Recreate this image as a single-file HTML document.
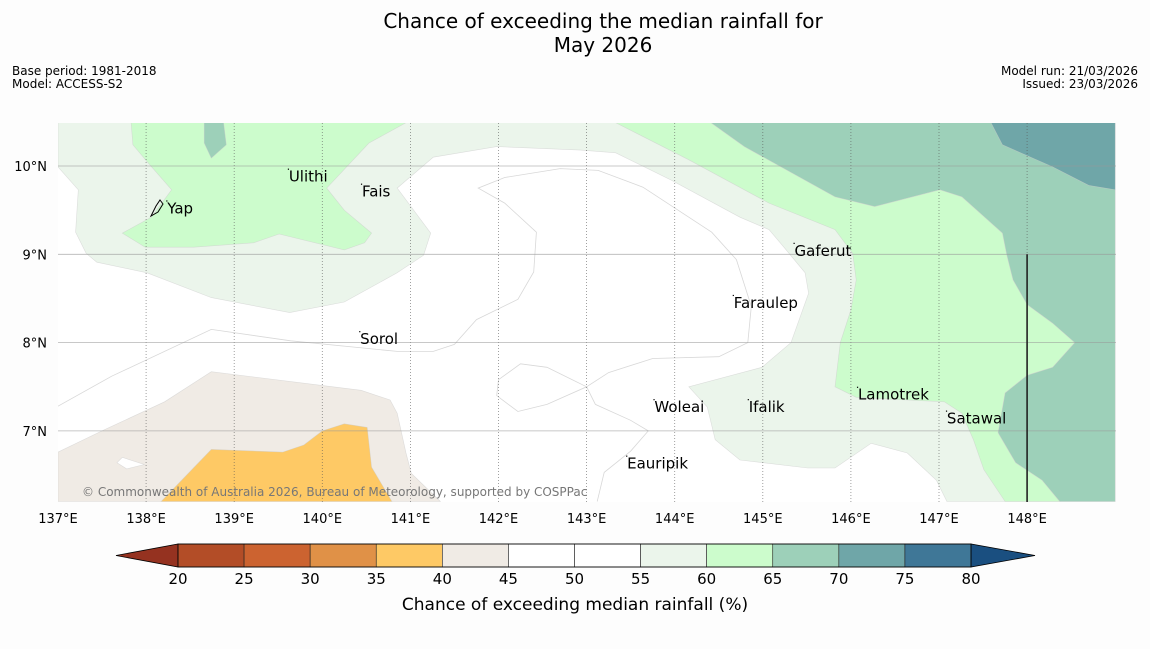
<!DOCTYPE html>
<html><head><meta charset="utf-8"><style>
body{margin:0;background:#fdfdfd;font-family:"Liberation Sans","DejaVu Sans",sans-serif;}
svg text{font-family:"DejaVu Sans","Liberation Sans",sans-serif;}
</style></head><body>
<svg id="chart" width="1150" height="644" viewBox="0 0 1150 644" xmlns="http://www.w3.org/2000/svg">
<rect width="1150" height="644" fill="#fdfdfd"/>
<text x="603" y="28" text-anchor="middle" font-size="20" fill="#000">Chance of exceeding the median rainfall for</text>
<text x="603" y="52" text-anchor="middle" font-size="20" fill="#000">May 2026</text>
<text x="12" y="75" font-size="12">Base period: 1981-2018</text>
<text x="12" y="88" font-size="12">Model: ACCESS-S2</text>
<text x="1138" y="75" font-size="12" text-anchor="end">Model run: 21/03/2026</text>
<text x="1138" y="88" font-size="12" text-anchor="end">Issued: 23/03/2026</text>
<g id="map"></g>
<g id="cbar"></g>
<text x="575" y="610" text-anchor="middle" font-size="17">Chance of exceeding median rainfall (%)</text>
</svg>
<script>
// Map extent (degrees)
const lonMin = 137, lonMax = 149.0, latMin = 6.2, latMax = 10.49;
const lonTicks = [137,138,139,140,141,142,143,144,145,146,147,148];
const latTicks = [7,8,9,10];
// Contour fill polygons, [lon, lat] pairs
const paleGreenZone = [[137,10.49],[149,10.49],[149,6.2],[147.09,6.2],[146.97,6.44],[146.64,6.75],[146.23,6.86],[145.82,6.58],[145.51,6.58],[144.74,6.67],[144.46,6.9],[144.37,7.27],[144.16,7.5],[144.99,7.72],[145.32,8],[145.52,8.56],[145.48,8.79],[145.24,9.08],[145.07,9.28],[144.74,9.42],[143.96,9.84],[143.33,10.15],[142.93,10.18],[141.98,10.22],[141.26,10.1],[140.85,9.75],[141.23,9.24],[141.15,8.99],[140.85,8.79],[140.25,8.46],[139.63,8.34],[138.74,8.51],[138.01,8.79],[137.44,8.91],[137.32,9.01],[137.2,9.25],[137.23,9.73],[137,9.99]];
const greenWestZone = [[137.83,10.49],[140.95,10.49],[140.53,10.26],[140.05,9.75],[140.25,9.5],[140.56,9.24],[140.48,9.13],[140.25,9.05],[139.51,9.23],[139.22,9.13],[138.54,9.08],[137.99,9.08],[137.73,9.24],[138.06,9.42],[138.29,9.73],[138.01,10.05],[137.85,10.24]];
const tealSliverZone = [[138.66,10.49],[138.88,10.49],[138.91,10.24],[138.74,10.09],[138.66,10.26]];
const tealEastZone = [[144.41,10.49],[149,10.49],[149,6.2],[148.37,6.2],[148.17,6.44],[147.87,6.64],[147.67,6.98],[147.75,7.43],[148.0,7.63],[148.29,7.72],[148.54,8.0],[148.29,8.22],[148.0,8.43],[147.84,8.71],[147.77,8.99],[147.72,9.24],[147.26,9.65],[147.01,9.73],[146.27,9.54],[145.82,9.65],[144.79,10.22]];
const greenEastZone = [[143.33,10.49],[144.41,10.49],[144.79,10.22],[145.82,9.65],[146.27,9.54],[147.01,9.73],[147.26,9.65],[147.72,9.24],[147.77,8.99],[147.84,8.71],[148.0,8.43],[148.29,8.22],[148.54,8.0],[148.29,7.72],[148.0,7.63],[147.75,7.43],[147.67,6.98],[147.87,6.64],[148.17,6.44],[148.37,6.2],[147.75,6.2],[147.51,6.56],[147.39,6.9],[147.26,7.2],[147.06,7.33],[146.64,7.35],[146.06,7.38],[145.82,7.5],[145.88,8.0],[146.0,8.37],[146.06,8.71],[146.02,9.01],[145.82,9.28],[145.07,9.58],[144.16,10.07]];
const darkTealZone = [[147.59,10.49],[149,10.49],[149,9.73],[148.7,9.78],[148.29,9.99],[147.72,10.24]];
const beigeZone = [[137,6.76],[137.52,7.01],[138.21,7.33],[138.74,7.67],[140.44,7.46],[140.77,7.35],[140.85,7.2],[140.95,6.75],[141.01,6.52],[141.34,6.2],[137,6.2]];
const beigeHoleZone = [[137.67,6.64],[137.73,6.7],[137.98,6.62],[137.78,6.57]];
const orangeZone = [[138.17,6.2],[138.74,6.79],[139.55,6.76],[139.79,6.84],[140.0,7.0],[140.25,7.08],[140.51,7.04],[140.56,6.59],[140.79,6.2]];
// Thin contour lines (white region)
const contourLineA = [[137,7.28],[137.61,7.62],[138.74,8.15],[139.64,8.02],[140.85,7.9],[141.26,7.9],[141.5,7.98],[141.75,8.26],[142.22,8.49],[142.4,8.8],[142.43,9.25],[142.07,9.58],[141.77,9.75],[142.07,9.87],[142.7,9.97],[143.13,9.95],[143.64,9.76],[144.42,9.25],[144.7,8.94],[144.87,8.41],[144.83,8],[144.5,7.84],[143.75,7.82],[143.25,7.66],[143.0,7.5]];
const contourLineB = [[142.0,7.58],[142.25,7.76],[142.55,7.72],[143.0,7.5],[142.55,7.3],[142.22,7.22],[141.98,7.4],[142.0,7.58]];
const contourLineC = [[143.12,6.2],[143.2,6.53],[143.5,6.77],[143.7,7.0],[143.5,7.12],[143.1,7.3],[143.0,7.5]];
// Place names
const placeNames = ["Yap","Ulithi","Fais","Sorol","Gaferut","Faraulep","Woleai","Ifalik","Lamotrek","Satawal","Eauripik"];
const placeLon = [138.24,139.62,140.45,140.43,145.36,144.67,143.77,144.84,146.08,147.09,143.46];
const placeLat = [9.52,9.88,9.71,8.04,9.04,8.45,7.27,7.27,7.41,7.14,6.63];
// Colorbar
const cbarLevels = [20,25,30,35,40,45,50,55,60,65,70,75,80];
const cbarColors = ["#b34d27","#cc6330","#e09147","#fec965","#f0ebe5","#ffffff","#ffffff","#ebf5eb","#ccfccc","#9dd0b9","#6fa6a8","#3f7797"];
const cbarUnder = "#953220", cbarOver = "#1a4f80";

const X0=58, X1=1116, Y0=123, Y1=502;
const pxPerLon = 88.1, pxPerLat = 88.3;
function xs(lon){return 58 + (lon-137)*pxPerLon;}
function ys(lat){return 166 - (lat-10)*pxPerLat;}
const NS="http://www.w3.org/2000/svg";
const map=document.getElementById('map');
function mk(tag,attrs,parent){const e=document.createElementNS(NS,tag);for(const k in attrs)e.setAttribute(k,attrs[k]);parent.appendChild(e);return e;}
function pts(arr){return arr.map(p=>xs(p[0]).toFixed(1)+","+ys(p[1]).toFixed(1)).join(" ");}

const defs=mk('defs',{},map);
const cp=mk('clipPath',{id:'mapclip'},defs);
mk('rect',{x:X0,y:Y0,width:X1-X0,height:Y1-Y0},cp);
const g=mk('g',{'clip-path':'url(#mapclip)'},map);
const bg=mk('rect',{x:X0,y:Y0,width:X1-X0,height:Y1-Y0,fill:'#ffffff'},g);


function poly(arr,fill,name){
  const p=mk('polygon',{points:pts(arr),fill:fill,stroke:'#cccccc','stroke-width':0.6,'stroke-opacity':0.6},g);
  
  
}
poly(paleGreenZone,'#ebf5eb','zone-55-60');
poly(tealEastZone,'#9dd0b9','zone-65-70-east');
poly(greenEastZone,'#ccfccc','zone-60-65-east');
poly(greenWestZone,'#ccfccc','zone-60-65-west');
poly(tealSliverZone,'#9dd0b9','zone-65-70-west');
poly(darkTealZone,'#6fa6a8','zone-70-75');
poly(beigeZone,'#f0ebe5','zone-40-45');
poly(beigeHoleZone,'#ffffff','zone-45-50-island');
poly(orangeZone,'#fec965','zone-35-40');
function line(arr,name){
  const l=mk('polyline',{points:pts(arr),fill:'none',stroke:'#d8d8d8','stroke-width':0.8},g);
  
  
}
line(contourLineA,'contour-line-a');
line(contourLineB,'contour-line-b');
line(contourLineC,'contour-line-c');
// grid
lonTicks.forEach(lon=>{
  if(lon>137){
    const l=mk('line',{x1:xs(lon),x2:xs(lon),y1:Y0,y2:Y1,stroke:'#555','stroke-width':0.8,'stroke-dasharray':'1,2','stroke-opacity':0.7},g);
    
    
  }
  const t=mk('text',{x:xs(lon),y:523,'text-anchor':'middle','font-size':13},map);
  t.textContent=lon+"°E";
  
  
});
latTicks.forEach(lat=>{
  const l=mk('line',{x1:X0,x2:X1,y1:ys(lat),y2:ys(lat),stroke:'#999','stroke-width':0.8,'stroke-opacity':0.7},g);
  
  
  const t=mk('text',{x:47,y:ys(lat)+5,'text-anchor':'end','font-size':13},map);
  t.textContent=lat+"°N";
  
  
});
const bl=mk('line',{x1:xs(148),x2:xs(148),y1:ys(9),y2:Y1,stroke:'#222','stroke-width':1.6},g);


// places
placeNames.forEach((n,i)=>{
  const x=xs(placeLon[i]), y=ys(placeLat[i]);
  const d=mk('rect',{x:x-1,y:y-8,width:1.2,height:1.2,fill:'#000'},map);
  
  
  const t=mk('text',{x:x,y:y+5,'font-size':15,fill:'#000'},map);
  t.textContent=n;
  
  
});
const yapIcon=mk('path',{d:'M151,216 L156,206 L160,200 L163,204 L158,212 Z',fill:'none',stroke:'#000','stroke-width':1},map);


const cr=mk('text',{x:82,y:496,'font-size':12,fill:'#777'},map);
cr.textContent="© Commonwealth of Australia 2026, Bureau of Meteorology, supported by COSPPac";


// colorbar
const cb=document.getElementById('cbar');
const CB0=178, CB1=971, CBy=544, CBh=23;
function cx(v){return CB0+(v-cbarLevels[0])/(cbarLevels[cbarLevels.length-1]-cbarLevels[0])*(CB1-CB0);}
const u=mk('polygon',{points:`${CB0},${CBy} ${CB0},${CBy+CBh} 116,${CBy+CBh/2}`,fill:cbarUnder,stroke:'#000','stroke-width':0.8},cb);


const o=mk('polygon',{points:`${CB1},${CBy} ${CB1},${CBy+CBh} 1035,${CBy+CBh/2}`,fill:cbarOver,stroke:'#000','stroke-width':0.8},cb);


cbarColors.forEach((c,i)=>{
  const r=mk('rect',{x:cx(cbarLevels[i]),y:CBy,width:cx(cbarLevels[i+1])-cx(cbarLevels[i]),height:CBh,fill:c,stroke:'#222','stroke-width':0.6},cb);
  
  
});
const fr=mk('rect',{x:CB0,y:CBy,width:CB1-CB0,height:CBh,fill:'none',stroke:'#000','stroke-width':0.8},cb);


cbarLevels.forEach(v=>{
  const t=mk('text',{x:cx(v),y:584,'text-anchor':'middle','font-size':15},cb);
  t.textContent=v;
  
  
});
</script>
</body></html>
